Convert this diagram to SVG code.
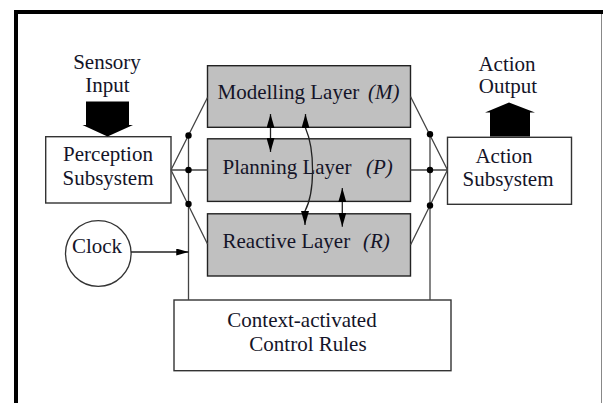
<svg xmlns="http://www.w3.org/2000/svg" width="603" height="403" viewBox="0 0 603 403">
<style>
text{font-family:"Liberation Serif","Times New Roman",serif;font-size:21px;fill:#141428}
.c{text-anchor:middle}
.it{font-style:italic}
.box{fill:#fff;stroke:#333;stroke-width:1.4}
.layer{fill:#c0c0c0;stroke:#222;stroke-width:1.4}
.ln{stroke:#444;stroke-width:1.3;fill:none}
.ar{stroke:#222;stroke-width:1.3;fill:none;marker-start:url(#ah);marker-end:url(#ah)}
.dot{fill:#000}
</style>
<defs>
<marker id="ah" viewBox="0 0 14 8" refX="14" refY="4" markerWidth="14" markerHeight="8" markerUnits="userSpaceOnUse" orient="auto-start-reverse"><path d="M0,0 L14,4 L0,8 z" fill="#000"/></marker>
<marker id="ahe" viewBox="0 0 14 8" refX="14" refY="4" markerWidth="14" markerHeight="7" markerUnits="userSpaceOnUse" orient="auto"><path d="M0,0 L14,4 L0,8 z" fill="#000"/></marker>
</defs>
<rect width="603" height="403" fill="#fff"/>
<g id="frame">
<line x1="14" y1="12" x2="603" y2="12" stroke="#000" stroke-width="4"/>
<line x1="16" y1="10" x2="16" y2="403" stroke="#000" stroke-width="4"/>
<line x1="601.5" y1="14" x2="601.5" y2="403" stroke="#888" stroke-width="1"/>
</g>
<g id="modelling">
<rect class="layer" x="207.5" y="65.7" width="203" height="61.6"/>
<text x="217.5" y="99.3">Modelling Layer</text>
<text class="it" x="368" y="99.3">(M)</text>
</g>
<g id="planning">
<rect class="layer" x="207.5" y="138.8" width="203" height="62.6"/>
<text x="222.5" y="174.3">Planning Layer</text>
<text class="it" x="366" y="174.3">(P)</text>
</g>
<g id="reactive">
<rect class="layer" x="207.5" y="213.8" width="203" height="62.2"/>
<text x="222.5" y="248.3">Reactive Layer</text>
<text class="it" x="363" y="248.3">(R)</text>
</g>
<g id="perception">
<rect class="box" x="45.7" y="136.7" width="125.3" height="66.3"/>
<text class="c" x="108" y="160.5">Perception</text>
<text class="c" x="108" y="184.5">Subsystem</text>
</g>
<g id="sensory">
<text class="c" x="107" y="69.3">Sensory</text>
<text class="c" x="107.5" y="91.7">Input</text>
</g>
<g id="action">
<rect class="box" x="447.5" y="137.3" width="124" height="67"/>
<text class="c" x="504" y="163.3">Action</text>
<text class="c" x="508" y="186">Subsystem</text>
</g>
<g id="output">
<text class="c" x="507" y="70.5">Action</text>
<text class="c" x="508" y="92.5">Output</text>
</g>
<g id="clock">
<circle cx="98.3" cy="253.5" r="32.8" fill="#fff" stroke="#333" stroke-width="1.3"/>
<text class="c" x="97" y="253.3">Clock</text>
</g>
<g id="rules">
<rect class="box" x="174" y="300" width="277" height="70.7"/>
<text class="c" x="302" y="327.3">Context-activated</text>
<text class="c" x="308" y="351">Control Rules</text>
</g>
<g id="connectors">
<path class="ln" d="M171,170 L207.5,97.5 M171,170 L207.5,170 M171,170 L207.5,244"/>
<path class="ln" d="M447.5,170 L410.5,96.5 M447.5,170 L410.5,170 M447.5,170 L410.5,245"/>
<path class="ln" d="M188.5,135 V300 M430,134 V300"/>
<circle class="dot" cx="188.5" cy="135.5" r="3.2"/>
<circle class="dot" cx="188.5" cy="170" r="3.2"/>
<circle class="dot" cx="188.5" cy="204" r="3.2"/>
<circle class="dot" cx="430" cy="134.3" r="3.2"/>
<circle class="dot" cx="430" cy="170" r="3.2"/>
<circle class="dot" cx="430" cy="205.5" r="3.2"/>
<line x1="131" y1="252" x2="188.5" y2="252" stroke="#222" stroke-width="1.3" marker-end="url(#ahe)"/>
<path class="ar" d="M270.5,114 V152"/>
<path class="ar" d="M342.3,188 V226.7"/>
<path class="ar" d="M305.5,114 L305.5,128 C315,150 315,192 305,211 L305,225"/>
<polygon points="86,101.5 129,101.5 129,125 133,125 107.5,136.5 82.5,125 86,125" fill="#000"/>
<polygon points="490,136.5 490,112.5 485,112.5 509,102.5 535,112.5 530,112.5 530,136.5" fill="#000"/>
</g>
</svg>
